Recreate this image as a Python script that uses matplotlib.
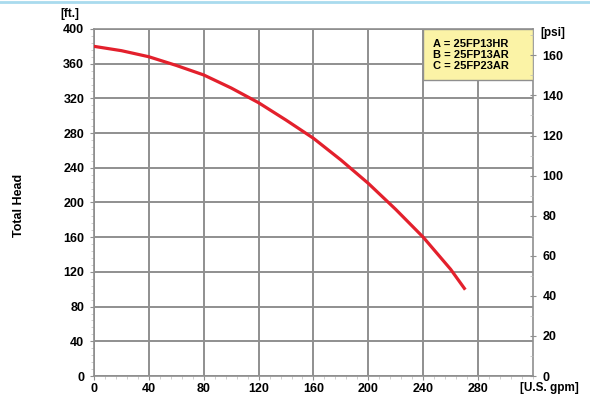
import numpy as np
import matplotlib.pyplot as plt
from matplotlib.ticker import MultipleLocator

plt.rcParams["font.family"] = ["Liberation Sans", "DejaVu Sans"]
plt.rcParams["font.weight"] = "bold"

# ── Data ──────────────────────────────────────────────────────────────────────
flow_gpm = [0, 20, 40, 60, 80, 100, 120, 140, 160, 180, 200, 220, 240, 260, 270]
head_ft = [380, 375, 368, 358, 347, 332, 315, 295, 274, 249, 222, 192, 160, 123, 101]
models = ["A = 25FP13HR", "B = 25FP13AR", "C = 25FP23AR"]
FT_PER_PSI = 2.31

GRID = "#8f8f8f"

fig = plt.figure(figsize=(5.9, 3.96), dpi=100)
ax = fig.add_axes([0.1593, 0.0505, 0.744, 0.8763])

ax.plot(flow_gpm, head_ft, color="#e3202c", linewidth=2.3, zorder=3,
        solid_joinstyle="round")

ax.set_xlim(0, 320)
ax.set_ylim(0, 400)
ax.set_xticks(np.arange(0, 281, 40))
ax.set_yticks(np.arange(0, 401, 40))
ax.xaxis.set_minor_locator(MultipleLocator(8))
ax.yaxis.set_minor_locator(MultipleLocator(8))
ax.grid(True, which="major", color=GRID, linewidth=1.4)
ax.tick_params(which="major", length=3, width=0.8, color=GRID, labelsize=9, pad=4)
ax.tick_params(axis="x", which="major", pad=2)
ax.tick_params(which="minor", length=2, width=0.5, color="#bbbbbb")
for lab in ax.get_xticklabels() + ax.get_yticklabels():
    lab.set_fontweight("bold")
for s in ax.spines.values():
    s.set_color(GRID)
    s.set_linewidth(1.2)

# right psi axis
ax2 = ax.twinx()
ax2.set_ylim(0, 400 / FT_PER_PSI)
ax2.set_yticks(np.arange(0, 161, 20))
ax2.yaxis.set_minor_locator(MultipleLocator(10))
ax2.tick_params(which="major", length=4, width=0.8, color=GRID, labelsize=9,
                direction="inout", pad=5)
ax2.tick_params(which="minor", length=2, width=0.5, color="#bbbbbb", direction="in")
for lab in ax2.get_yticklabels():
    lab.set_fontweight("bold")
for s in ax2.spines.values():
    s.set_visible(False)

# model box
box = plt.Rectangle((240, 341), 80, 59, facecolor="#fbf3a6", edgecolor=GRID,
                    linewidth=1.0, zorder=4)
ax.add_patch(box)
ax.text(247, 370, "\n".join(models), fontsize=8, fontweight="bold",
        va="center", ha="left", linespacing=1.1, zorder=5)

# unit and axis labels
fig.text(70 / 590, 1 - 14 / 396, "[ft.]", fontsize=8.5, fontweight="bold",
         ha="center", va="center")
fig.text(553 / 590, 1 - 33 / 396, "[psi]", fontsize=8.5, fontweight="bold",
         ha="center", va="center")
fig.text(549 / 590, 1 - 388 / 396, "[U.S. gpm]", fontsize=8.5, fontweight="bold",
         ha="center", va="center")
fig.text(19 / 590, 1 - 205 / 396, "Total Head", fontsize=9, fontweight="bold",
         rotation=90, ha="center", va="center")

# light blue frame line at the top
fig.add_artist(plt.Line2D([0, 1], [0.995, 0.995], color="#a9dbee",
                          linewidth=2, transform=fig.transFigure))

fig.savefig("out.png", dpi=100)
